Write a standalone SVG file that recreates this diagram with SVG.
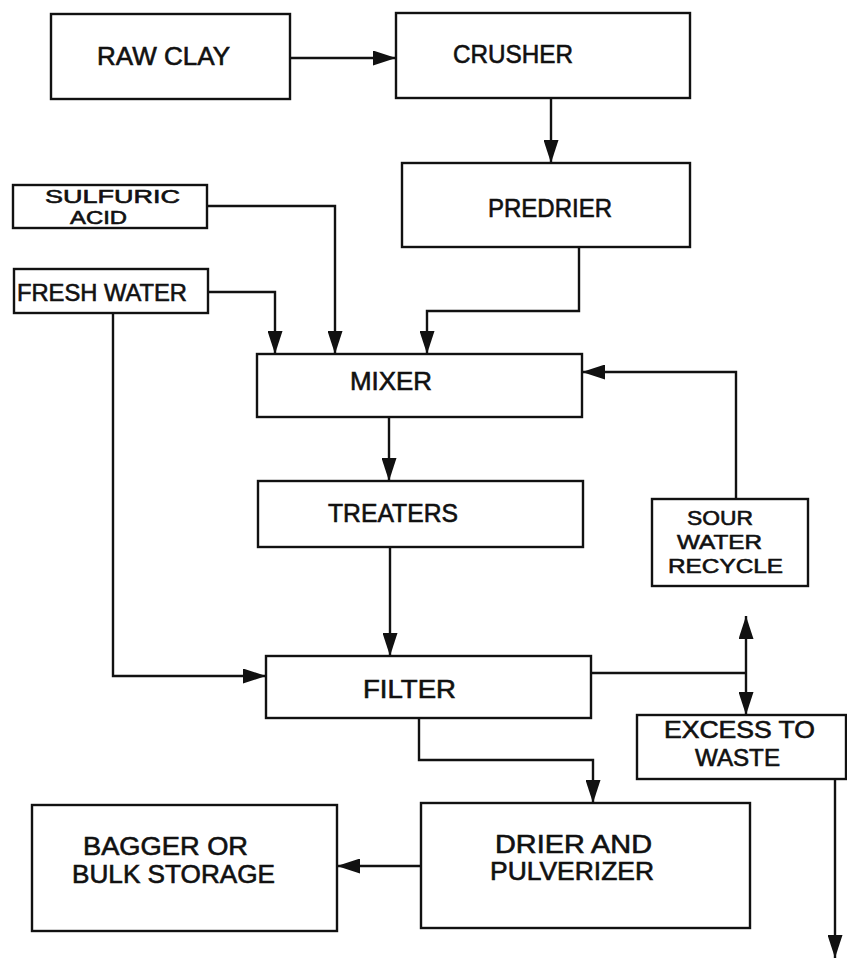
<svg xmlns="http://www.w3.org/2000/svg" width="847" height="960" viewBox="0 0 847 960">
<style>
.box{fill:#fff;stroke:#111;stroke-width:2.4}
.ln{fill:none;stroke:#111;stroke-width:2.4}
text{font-family:"Liberation Sans",Arial,sans-serif;font-size:25px;fill:#111;stroke:#111;stroke-width:0.6}
.s{font-size:19px}
.m{font-size:21px}
</style>
<defs>
<marker id="ah" markerUnits="userSpaceOnUse" markerWidth="23" markerHeight="15" refX="23" refY="7.5" orient="auto">
<path d="M0,0 L23,7.5 L0,15 z" fill="#111"/>
</marker>
</defs>
<rect width="847" height="960" fill="#fff"/>
<g id="connectors">
<path class="ln" d="M290,58 H396" marker-end="url(#ah)"/>
<path class="ln" d="M551,98 V163" marker-end="url(#ah)"/>
<path class="ln" d="M579,247 V311 H427 V354" marker-end="url(#ah)"/>
<path class="ln" d="M207,206 H335 V354" marker-end="url(#ah)"/>
<path class="ln" d="M208,292 H275 V354" marker-end="url(#ah)"/>
<path class="ln" d="M113,313 V676 H266" marker-end="url(#ah)"/>
<path class="ln" d="M389,417 V481" marker-end="url(#ah)"/>
<path class="ln" d="M736,499 V372 H582" marker-end="url(#ah)"/>
<path class="ln" d="M390,547 V656" marker-end="url(#ah)"/>
<path class="ln" d="M591,673 H746"/>
<path class="ln" d="M746,673 V616" marker-end="url(#ah)"/>
<path class="ln" d="M746,673 V715" marker-end="url(#ah)"/>
<path class="ln" d="M419,718 V760 H593 V803" marker-end="url(#ah)"/>
<path class="ln" d="M835,779 V958" marker-end="url(#ah)"/>
<path class="ln" d="M421,866 H337" marker-end="url(#ah)"/>
</g>
<g id="raw-clay">
<rect class="box" x="51" y="14" width="239" height="85"/>
<text x="97" y="65" textLength="133" lengthAdjust="spacingAndGlyphs">RAW CLAY</text>
</g>
<g id="crusher">
<rect class="box" x="396" y="13" width="294" height="85"/>
<text x="453" y="63" textLength="120" lengthAdjust="spacingAndGlyphs">CRUSHER</text>
</g>
<g id="predrier">
<rect class="box" x="402" y="163" width="288" height="84"/>
<text x="488" y="217" textLength="124" lengthAdjust="spacingAndGlyphs">PREDRIER</text>
</g>
<g id="sulfuric-acid">
<rect class="box" x="13" y="185" width="194" height="43"/>
<text class="s" x="45" y="203" textLength="135" lengthAdjust="spacingAndGlyphs">SULFURIC</text>
<text class="s" x="70" y="224" textLength="57" lengthAdjust="spacingAndGlyphs">ACID</text>
</g>
<g id="fresh-water">
<rect class="box" x="14" y="269" width="194" height="44"/>
<text x="17" y="301" style="font-size:24px" textLength="170" lengthAdjust="spacingAndGlyphs">FRESH WATER</text>
</g>
<g id="mixer">
<rect class="box" x="257" y="354" width="325" height="63"/>
<text x="350" y="390" textLength="82" lengthAdjust="spacingAndGlyphs">MIXER</text>
</g>
<g id="treaters">
<rect class="box" x="258" y="481" width="325" height="66"/>
<text x="328" y="522" textLength="130" lengthAdjust="spacingAndGlyphs">TREATERS</text>
</g>
<g id="sour-water-recycle">
<rect class="box" x="652" y="499" width="156" height="87"/>
<text class="m" x="687" y="525" textLength="66" lengthAdjust="spacingAndGlyphs">SOUR</text>
<text class="m" x="677" y="549" textLength="85" lengthAdjust="spacingAndGlyphs">WATER</text>
<text class="m" x="668" y="573" textLength="115" lengthAdjust="spacingAndGlyphs">RECYCLE</text>
</g>
<g id="filter">
<rect class="box" x="266" y="656" width="325" height="62"/>
<text x="363" y="698" textLength="93" lengthAdjust="spacingAndGlyphs">FILTER</text>
</g>
<g id="excess-to-waste">
<rect class="box" x="637" y="715" width="209" height="64"/>
<text style="font-size:23px" x="664" y="738" textLength="151" lengthAdjust="spacingAndGlyphs">EXCESS TO</text>
<text style="font-size:23px" x="695" y="766" textLength="85" lengthAdjust="spacingAndGlyphs">WASTE</text>
</g>
<g id="drier-pulverizer">
<rect class="box" x="421" y="803" width="329" height="125"/>
<text x="495" y="853" textLength="157" lengthAdjust="spacingAndGlyphs">DRIER AND</text>
<text x="490" y="880" textLength="164" lengthAdjust="spacingAndGlyphs">PULVERIZER</text>
</g>
<g id="bagger-storage">
<rect class="box" x="32" y="805" width="305" height="126"/>
<text x="83" y="855" textLength="165" lengthAdjust="spacingAndGlyphs">BAGGER OR</text>
<text x="72" y="883" textLength="203" lengthAdjust="spacingAndGlyphs">BULK STORAGE</text>
</g>
</svg>
